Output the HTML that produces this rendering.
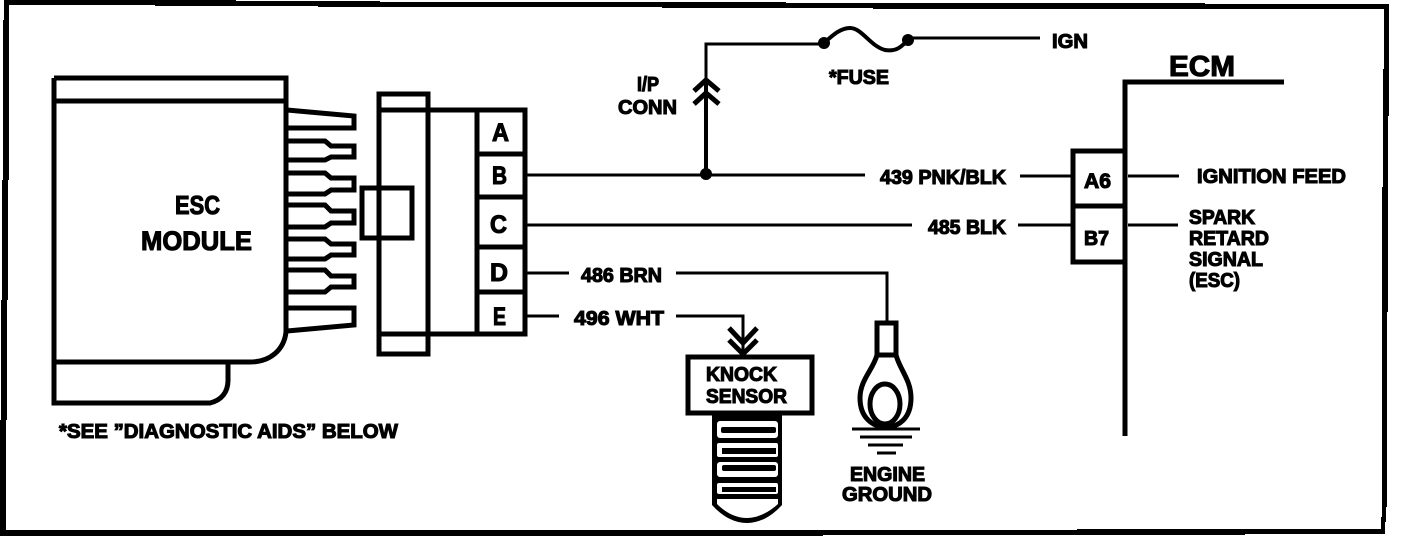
<!DOCTYPE html>
<html><head><meta charset="utf-8"><style>
html,body{margin:0;padding:0;background:#fff;width:1408px;height:536px;overflow:hidden}
svg{display:block}
text{font-family:"Liberation Sans",sans-serif;font-weight:700;fill:#000;stroke:#000;stroke-width:1.1}
</style></head><body>
<svg width="1408" height="536" viewBox="0 0 1408 536" xmlns="http://www.w3.org/2000/svg">
<rect width="1408" height="536" fill="#fff"/>
<!-- frame -->
<path fill="#000" fill-rule="evenodd" d="M4,0H236V1H380V2H786V3H1205V4H1389V116H1388V312H1387V507H1386V522H1385V534H1245V535H823V536H0V420H1V300H2V180H3V20H4Z M9,5V180H8V300H7V420H6V530H1077V529H1381V517H1382V187H1383V69H1384V9H873V8H662V7H318V6H155V5Z"/>
<g fill="none" stroke="#000" stroke-width="5">
<!-- module -->
<path d="M54,78H286V332C284,350 270,362 250,362H53"/>
<path d="M54,78V403H210C222,400 228,392 228,380V362"/>
<path d="M54,101H286"/>
<!-- pins -->
<path d="M287,110L354,116V128H287"/>
<path d="M287,141H325L331,146H354V157H331L325,160H287"/>
<path d="M287,173H325L331,178H354V190H331L325,194H287"/>
<path d="M287,205H325L331,211H354V223H331L325,227H287"/>
<path d="M287,239H325L331,244H354V255H331L325,259H287"/>
<path d="M287,270H325L331,276H354V287H331L325,292H287"/>
<path d="M287,308H354V325L287,331"/>
<!-- connector -->
<path d="M379,94H428V354H379Z"/>
<path d="M379,110H525V334H379"/>
<path d="M477,110V334"/>
<path d="M477,154H525M477,197H525M477,247H525M477,292H525"/>
<path d="M362,188H412V238H362Z"/>
<!-- ECM -->
<path d="M1284,82H1125V436"/>
<path d="M1125,151H1073V262H1125"/>
<path d="M1073,206H1125"/>
<!-- knock -->
<path d="M688,357H812V413H688Z"/>
<!-- lug -->
<path d="M877,323H896V355H877Z"/>
<path d="M877,355C873,370 860,380 860,398C860,418 873,427 886,427C899,427 911,418 911,398C911,380 900,370 896,355"/>
<ellipse cx="885" cy="404" rx="15" ry="20"/>
</g>
<g fill="none" stroke="#000" stroke-width="3">
<path d="M527,175H865M1020,176H1072"/>
<path d="M527,225H912M1018,225H1072"/>
<path d="M527,273H569M676,273H887V322"/>
<path d="M527,316H559M676,316H743V353"/>
<path d="M1128,176H1179M1128,225H1178"/>
<path d="M852,429H920M860,437H912M868,445H903M877,453H896"/>
<path d="M706,174V44H824"/>
<path d="M908,38H1040"/>
<path d="M706,170V80" stroke-width="4"/>
<path d="M824,43C832,36 840,28 850,28C862,28 870,46 885,50C897,52 902,46 908,40" stroke-width="4"/>
</g>
<g fill="none" stroke="#000" stroke-width="5">
<path d="M694,91L706,80L719,91M694,104L706,93L719,104"/>
<path d="M729,328L743,343L757,328M729,340L743,354L757,340"/>
</g>
<circle cx="706" cy="174" r="6"/><circle cx="824" cy="43" r="6"/><circle cx="908" cy="40" r="6"/>
<!-- thread -->
<path d="M712,413H782V505C772,516 760,523 747,523C734,523 722,516 712,505Z" fill="#000"/>
<g fill="#fff">
<rect x="717" y="421" width="61" height="17" rx="3"/>
<rect x="717" y="443" width="61" height="14" rx="2"/>
<rect x="717" y="462" width="61" height="15" rx="3"/>
<rect x="717" y="483" width="61" height="11" rx="2"/>
<path d="M717,499H778V504C768,513 757,518 747,518C736,518 726,513 717,504Z"/>
</g>
<g fill="#000">
<rect x="721" y="427" width="55" height="6" rx="2"/>
<rect x="722" y="448" width="54" height="6"/>
<rect x="722" y="465" width="54" height="6" rx="2"/>
<rect x="722" y="487" width="54" height="5"/>
</g>
<!-- text -->
<text x="175" y="214" font-size="26" textLength="45" lengthAdjust="spacingAndGlyphs">ESC</text>
<text x="141" y="250" font-size="27" textLength="111" lengthAdjust="spacingAndGlyphs">MODULE</text>
<text x="492" y="141" font-size="25" textLength="17" lengthAdjust="spacingAndGlyphs">A</text>
<text x="492" y="184" font-size="25" textLength="15" lengthAdjust="spacingAndGlyphs">B</text>
<text x="490" y="233" font-size="25" textLength="17" lengthAdjust="spacingAndGlyphs">C</text>
<text x="490" y="281" font-size="25" textLength="18" lengthAdjust="spacingAndGlyphs">D</text>
<text x="493" y="325" font-size="25" textLength="13" lengthAdjust="spacingAndGlyphs">E</text>
<text x="59" y="438" font-size="20" textLength="339" lengthAdjust="spacingAndGlyphs">*SEE ”DIAGNOSTIC AIDS” BELOW</text>
<text x="637" y="91" font-size="20" textLength="22" lengthAdjust="spacingAndGlyphs">I/P</text>
<text x="618" y="114" font-size="20" textLength="59" lengthAdjust="spacingAndGlyphs">CONN</text>
<text x="829" y="84" font-size="20" textLength="60" lengthAdjust="spacingAndGlyphs">*FUSE</text>
<text x="1052" y="48" font-size="20" textLength="36" lengthAdjust="spacingAndGlyphs">IGN</text>
<text x="880" y="184" font-size="20" textLength="126" lengthAdjust="spacingAndGlyphs">439 PNK/BLK</text>
<text x="928" y="234" font-size="20" textLength="78" lengthAdjust="spacingAndGlyphs">485 BLK</text>
<text x="581" y="282" font-size="20" textLength="81" lengthAdjust="spacingAndGlyphs">486 BRN</text>
<text x="574" y="325" font-size="20" textLength="90" lengthAdjust="spacingAndGlyphs">496 WHT</text>
<text x="706" y="381" font-size="20" textLength="71" lengthAdjust="spacingAndGlyphs">KNOCK</text>
<text x="706" y="403" font-size="20" textLength="81" lengthAdjust="spacingAndGlyphs">SENSOR</text>
<text x="850" y="481" font-size="20" textLength="75" lengthAdjust="spacingAndGlyphs">ENGINE</text>
<text x="842" y="501" font-size="20" textLength="90" lengthAdjust="spacingAndGlyphs">GROUND</text>
<text x="1169" y="76" font-size="29" textLength="66" lengthAdjust="spacingAndGlyphs">ECM</text>
<text x="1084" y="188" font-size="21" textLength="27" lengthAdjust="spacingAndGlyphs">A6</text>
<text x="1084" y="245" font-size="20" textLength="25" lengthAdjust="spacingAndGlyphs">B7</text>
<text x="1197" y="183" font-size="20" textLength="149" lengthAdjust="spacingAndGlyphs">IGNITION FEED</text>
<text x="1189" y="224" font-size="20" textLength="66" lengthAdjust="spacingAndGlyphs">SPARK</text>
<text x="1189" y="245" font-size="20" textLength="80" lengthAdjust="spacingAndGlyphs">RETARD</text>
<text x="1189" y="266" font-size="20" textLength="74" lengthAdjust="spacingAndGlyphs">SIGNAL</text>
<text x="1189" y="287" font-size="20" textLength="51" lengthAdjust="spacingAndGlyphs">(ESC)</text>
</svg>
</body></html>
